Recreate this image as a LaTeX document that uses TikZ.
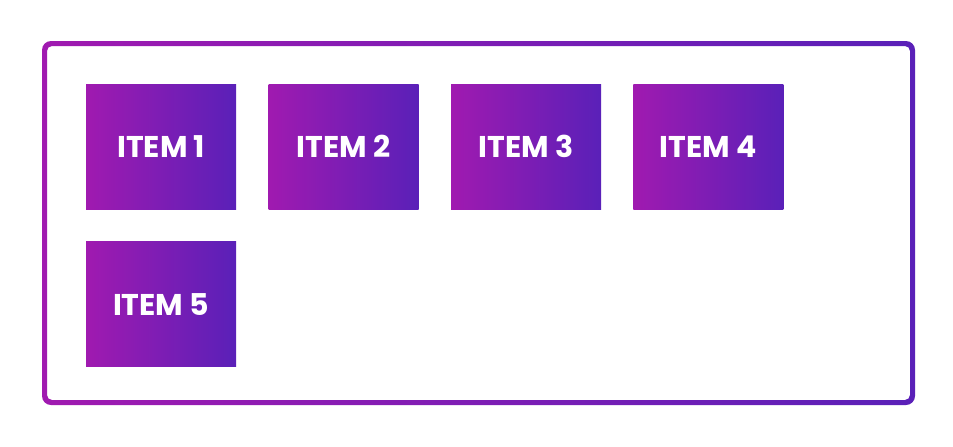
\documentclass[tikz,border=0pt]{standalone}
\usepackage{fontspec}
\setmainfont{Poppins}
\usetikzlibrary{positioning}
\definecolor{gradleft}{HTML}{A01AB0}
\definecolor{gradright}{HTML}{5A20B8}
\tikzstyle{itembox} = [rectangle, minimum width=150pt, minimum height=125pt, inner sep=0pt, left color=gradleft, right color=gradright, text=white, font=\fontsize{30}{34}\selectfont\bfseries]

\begin{document}
\begin{tikzpicture}[x=1pt, y=-1pt, node distance=32pt]
\useasboundingbox (0,0) rectangle (953,447);
% Gradient frame
\shade[left color=gradleft, right color=gradright, even odd rule]
  [rounded corners=9pt] (42,41) rectangle (915,405)
  [rounded corners=5pt] (47,46) rectangle (910,400);

% Placement of item nodes
\node (item1) [itembox, anchor=north west] at (86,84) {ITEM 1};
\node (item2) [itembox, right=of item1] {ITEM 2};
\node (item3) [itembox, right=of item2] {ITEM 3};
\node (item4) [itembox, right=of item3] {ITEM 4};
\node (item5) [itembox, below=of item1] {ITEM 5};
\end{tikzpicture}
\end{document}
